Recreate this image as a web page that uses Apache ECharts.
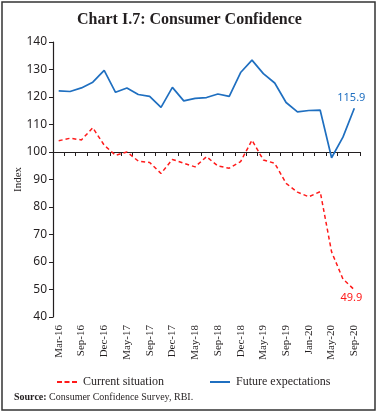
<!DOCTYPE html>
<html><head><meta charset="utf-8">
<script src="https://cdn.jsdelivr.net/npm/echarts@6/dist/echarts.min.js"></script>
<style>html,body{margin:0;padding:0;background:#fff}#c{width:379px;height:415px}</style>
</head><body><div id="c"></div>
<script>
const categories = ['Mar-16','Jun-16','Sep-16','Nov-16','Dec-16','Mar-17','May-17','Jun-17','Sep-17','Nov-17','Dec-17','Mar-18','May-18','Jun-18','Sep-18','Nov-18','Dec-18','Mar-19','May-19','Jul-19','Sep-19','Nov-19','Jan-20','Mar-20','May-20','Jul-20','Sep-20'];
const currentSituation = [104.1,105.0,104.4,108.8,102.5,98.8,100.0,96.7,96.2,92.2,97.3,95.9,94.6,98.3,94.9,94.1,96.5,104.3,97.1,95.9,88.6,85.4,83.7,85.6,63.7,53.8,49.9];
const futureExpectations = [122.2,122.0,123.3,125.4,129.7,121.7,123.3,120.9,120.2,116.2,123.5,118.6,119.5,119.8,121.1,120.2,128.9,133.4,128.5,125.1,118.0,114.6,115.1,115.2,97.9,105.4,115.9];
const yTicks = {min: 40, max: 140, interval: 10};
const lastCurrent = '49.9', lastFuture = '115.9';

const RED = '#ff1a1a', BLUE = '#1f6fc0';
const serif = '"Liberation Serif", "DejaVu Serif", serif';
const sans = '"Noto Sans", "Open Sans", sans-serif';
const chart = echarts.init(document.getElementById('c'), null, {renderer: 'canvas'});
const n = categories.length;
chart.setOption({
  animation: false,
  title: {text: 'Chart I.7: Consumer Confidence', left: 'center', top: 7,
    textStyle: {fontFamily: serif, fontWeight: 'bold', fontSize: 16, color: '#231f20'}},
  graphic: [
    {type: 'rect', shape: {x: 2, y: 2, width: 373, height: 408}, style: {fill: 'none', stroke: '#333', lineWidth: 1.5}, silent: true},
    {type: 'text', left: 14, top: 392, style: {text: '{b|Source:} Consumer Confidence Survey, RBI.', rich: {b: {fontWeight: 'bold', fontFamily: serif, fontSize: 10, fill: '#231f20'}}, fontFamily: serif, fontSize: 10, fill: '#231f20'}}
  ],
  legend: {left: 52, top: 371, itemWidth: 20, itemHeight: 2, itemGap: 46,
    textStyle: {fontFamily: serif, fontSize: 12, color: '#231f20', padding: [0, 0, 0, 1]},
    data: [
      {name: 'Current situation', icon: 'path://M0,0h5v2h-5z M7.5,0h5v2h-5z M15,0h5v2h-5z', itemStyle: {color: RED}},
      {name: 'Future expectations', icon: 'rect', itemStyle: {color: BLUE}}
    ]},
  grid: {left: 53, right: 19, top: 42, bottom: 98},
  xAxis: [
    {type: 'category', data: categories, boundaryGap: true,
      axisLine: {show: false}, axisTick: {show: false},
      axisLabel: {rotate: 90, interval: 1, margin: 8, fontFamily: serif, fontSize: 11, color: '#231f20'}},
    {type: 'category', data: categories, boundaryGap: true, position: 'bottom', offset: -165,
      axisLine: {show: true, lineStyle: {color: '#231f20', width: 1.2}},
      axisTick: {show: true, length: 4, interval: 0, lineStyle: {color: '#231f20'}},
      axisLabel: {show: false}}
  ],
  yAxis: {type: 'value', min: yTicks.min, max: yTicks.max, interval: yTicks.interval,
    name: 'Index', nameLocation: 'middle', nameGap: 29, nameRotate: 90, nameMoveOverlap: false,
    nameTextStyle: {fontFamily: serif, fontSize: 11, color: '#231f20'},
    axisLine: {show: true, lineStyle: {color: '#231f20', width: 1.2}},
    axisTick: {show: true, length: 4, lineStyle: {color: '#231f20'}},
    axisLabel: {fontFamily: sans, fontSize: 12, color: '#231f20', margin: 6},
    splitLine: {show: false}},
  series: [
    {name: 'Current situation', type: 'line', data: currentSituation, symbol: 'none',
      lineStyle: {color: RED, width: 1.5, type: [4, 3]}, itemStyle: {color: RED},
      markPoint: {symbol: 'circle', symbolSize: 0, data: [{coord: [n - 1, currentSituation[n - 1]], value: lastCurrent}],
        label: {show: true, position: 'bottom', distance: 3, offset: [-3, 0], formatter: lastCurrent, color: RED, fontFamily: sans, fontSize: 11}}},
    {name: 'Future expectations', type: 'line', data: futureExpectations, symbol: 'none',
      lineStyle: {color: BLUE, width: 1.7}, itemStyle: {color: BLUE},
      markPoint: {symbol: 'circle', symbolSize: 0, data: [{coord: [n - 1, futureExpectations[n - 1]], value: lastFuture}],
        label: {show: true, position: 'top', distance: 5, offset: [-3, 0], formatter: lastFuture, color: BLUE, fontFamily: sans, fontSize: 11}}}
  ]
});
</script></body></html>
